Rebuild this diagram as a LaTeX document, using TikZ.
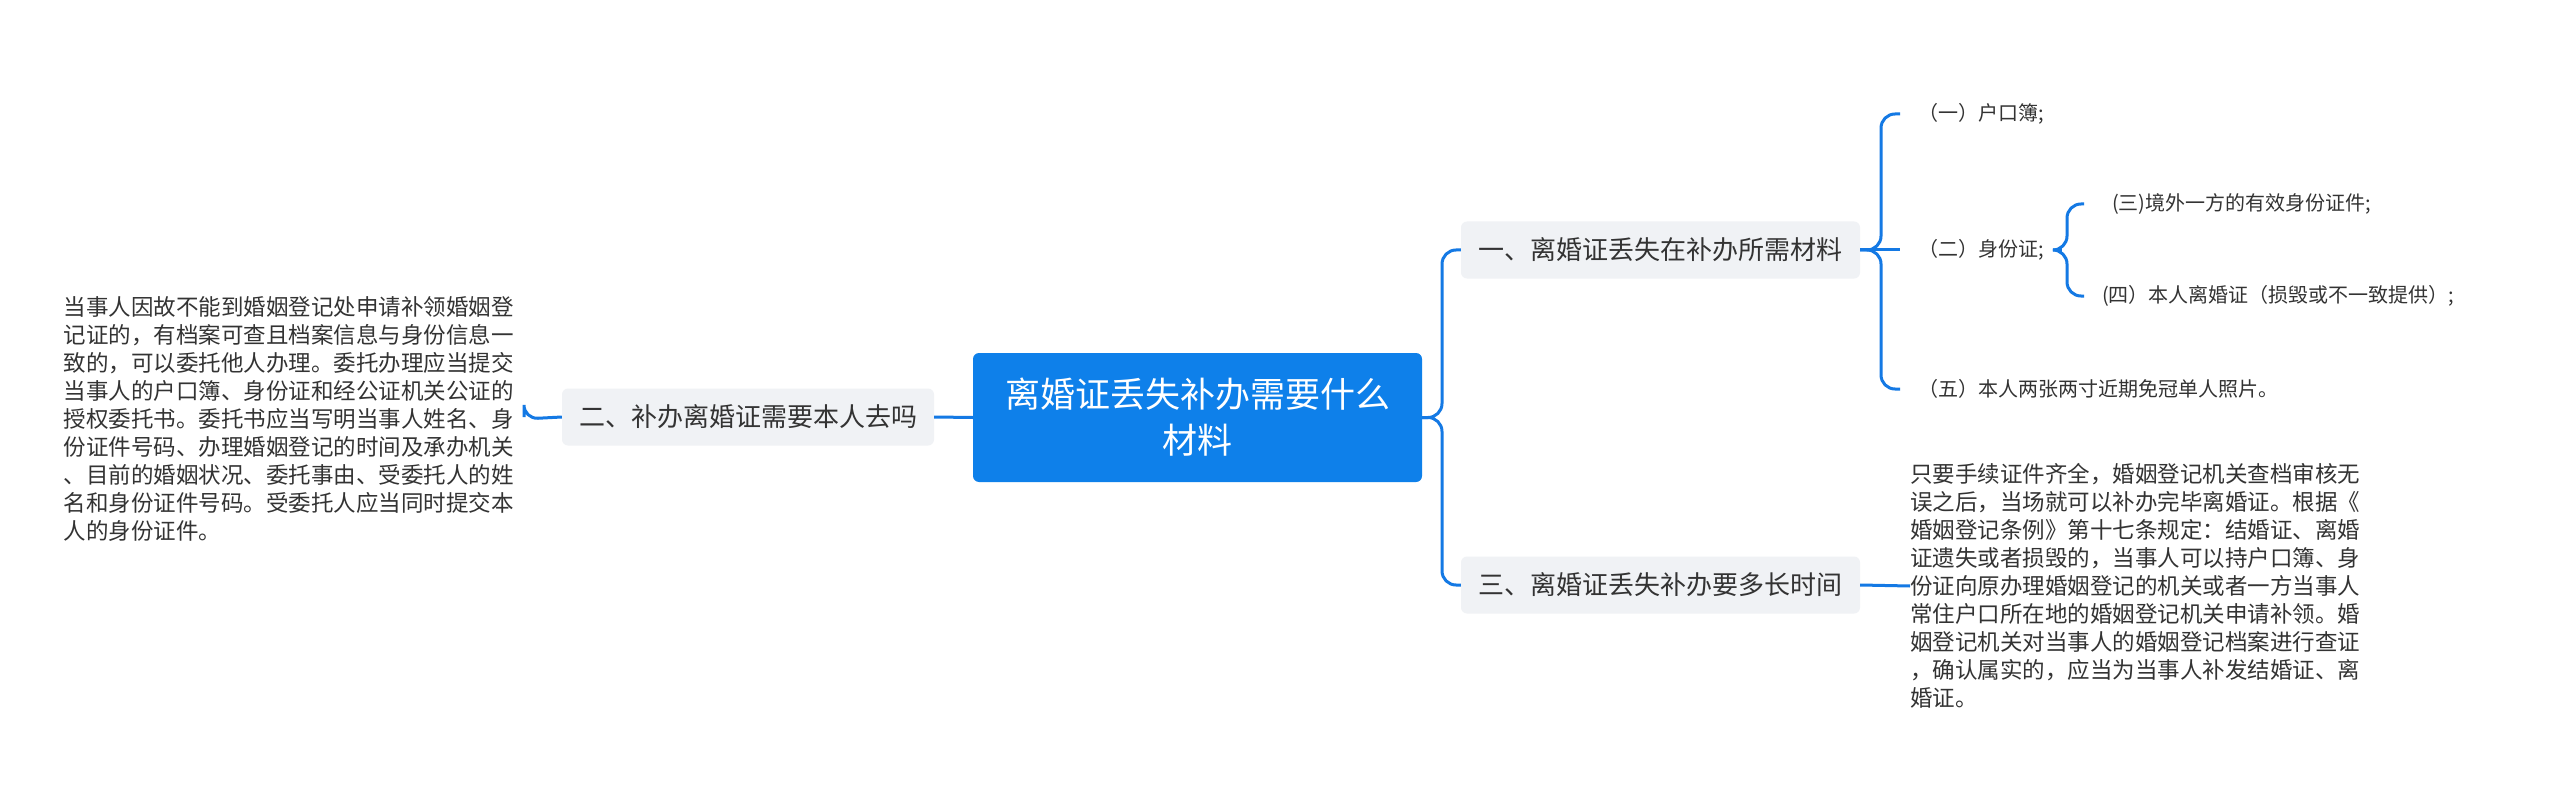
\documentclass[tikz,border=0pt]{standalone}
\usepackage{fontspec}
\setmainfont{Noto Sans CJK SC}
\begin{document}
\begin{tikzpicture}[x=1pt,y=-1pt,
  conn/.style={draw=lineblue,line width=3pt,rounded corners=14pt},
  branch/.style={fill=branchgray,rounded corners=6pt,text=textdark,font=\fontsize{26}{30}\selectfont,inner xsep=10pt,minimum height=57pt,anchor=center},
  leaf/.style={text=textdark,font=\fontsize{20}{24}\selectfont,inner xsep=18pt,anchor=west},
  para/.style={text=textdark,font=\fontsize{22.5}{28}\selectfont,align=left,inner sep=0pt}]
\definecolor{lineblue}{HTML}{1479E4}
\definecolor{centerblue}{HTML}{0E80EA}
\definecolor{branchgray}{HTML}{F0F2F5}
\definecolor{textdark}{HTML}{333333}
\useasboundingbox[fill=white] (0,0) rectangle (2560,805);
\node[fill=centerblue,rounded corners=6pt,minimum width=449pt,minimum height=129pt,text=white,align=center,font=\fontsize{35}{46}\selectfont] (c) at (1197.5,417.5) {离婚证丢失补办需要什么\\材料};
\node[branch,minimum width=399pt] (b1) at (1660.5,250) {一、离婚证丢失在补办所需材料};
\node[branch,minimum width=399pt] (b3) at (1660.5,585) {三、离婚证丢失补办要多长时间};
\node[branch,minimum width=372pt] (b2) at (748,417) {二、补办离婚证需要本人去吗};
\node[para,anchor=east] (lt) at (514,419) {当事人因故不能到婚姻登记处申请补领婚姻登\\记证的，有档案可查且档案信息与身份信息一\\致的，可以委托他人办理。委托办理应当提交\\当事人的户口簿、身份证和经公证机关公证的\\授权委托书。委托书应当写明当事人姓名、身\\份证件号码、办理婚姻登记的时间及承办机关\\、目前的婚姻状况、委托事由、受委托人的姓\\名和身份证件号码。受委托人应当同时提交本\\人的身份证件。};
\node[para,anchor=west] (rt) at (1910,586) {只要手续证件齐全，婚姻登记机关查档审核无\\误之后，当场就可以补办完毕离婚证。根据《\\婚姻登记条例》第十七条规定：结婚证、离婚\\证遗失或者损毁的，当事人可以持户口簿、身\\份证向原办理婚姻登记的机关或者一方当事人\\常住户口所在地的婚姻登记机关申请补领。婚\\姻登记机关对当事人的婚姻登记档案进行查证\\，确认属实的，应当为当事人补发结婚证、离\\婚证。};
\node[leaf] (l1) at (1900,114) {（一）户口簿;};
\node[leaf] (l2) at (1900,250) {（二）身份证;};
\node[leaf] (l5) at (1900,389) {（五）本人两张两寸近期免冠单人照片。};
\node[leaf,inner xsep=28pt] (l3) at (2084,204) {(三)境外一方的有效身份证件;};
\node[leaf] (l4) at (2084,296) {(四）本人离婚证（损毁或不一致提供）;};
\draw[conn] (c.east) -- (1442,417.5) |- (b1.west);
\draw[conn] (c.east) -- (1442,417.5) |- (b3.west);
\draw[conn] (c.west) -- (b2.east);
\draw[conn] (b2.west) -- (lt.east -| 524,0) -- (524,417);
\draw[conn] (b3.east) -- (rt.west);
\draw[conn] (b1.east) -- (1881,250) |- (l1.west);
\draw[conn] (b1.east) -- (1881,250) |- (l5.west);
\draw[conn] (b1.east) -- (l2.west);
\draw[conn] (l2.east) -- (2067,250) |- (l3.west);
\draw[conn] (l2.east) -- (2067,250) |- (l4.west);
\end{tikzpicture}
\end{document}
